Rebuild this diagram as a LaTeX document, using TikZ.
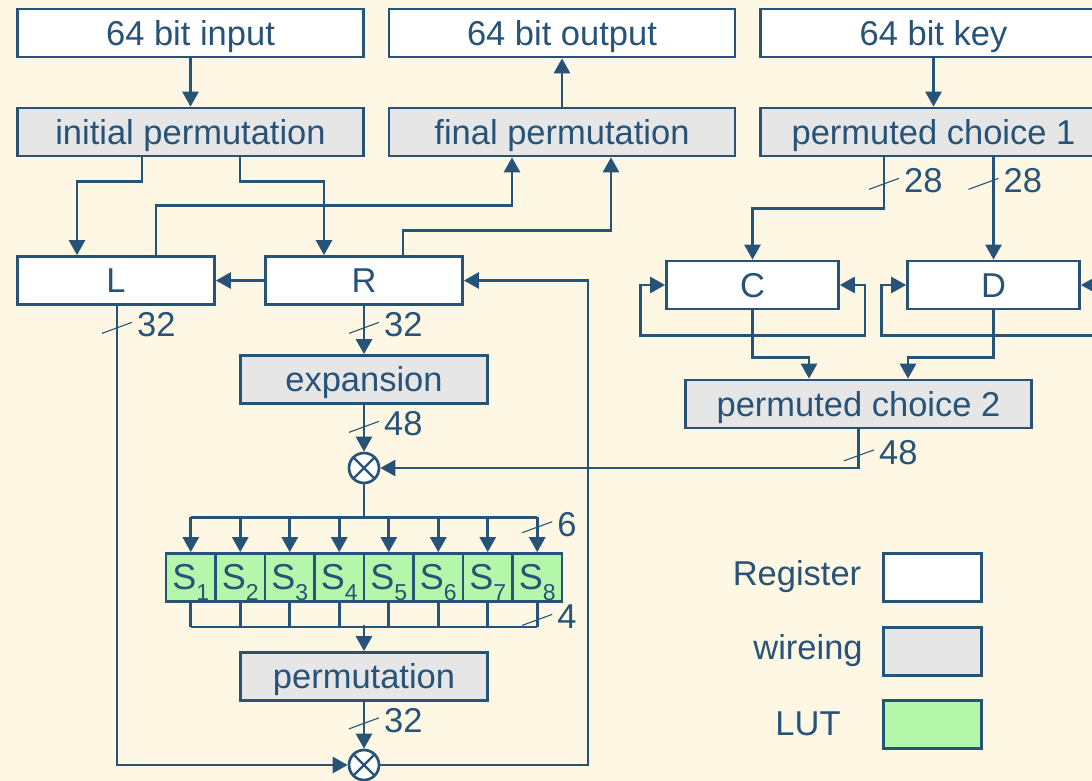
\documentclass[tikz,border=0pt]{standalone}
\usepackage{fontspec}
\setmainfont{Liberation Sans}
\usetikzlibrary{arrows.meta,calc}
\definecolor{ink}{RGB}{40,83,120}
\definecolor{paper}{RGB}{253,247,227}
\definecolor{wiregray}{RGB}{230,230,230}
\definecolor{lutgreen}{RGB}{180,246,170}

% a short slash across a wire with its bit width beside it
\newcommand\buswidth[3]{%
  \draw[slashline] ($#2+(-15,5.5)$) -- ($#2+(15,-5.5)$);
  \node[txt,anchor=west] (#1) at ($#2+(20,-3)$) {#3};}

\begin{document}
\begin{tikzpicture}[x=1pt,y=-1pt,
  txt/.style={text=ink,font=\fontsize{34.5}{40}\selectfont,inner sep=0pt},
  box/.style={txt,draw=ink,line width=2.7pt,text height=24.5pt,text depth=0pt,
    minimum height=48pt},
  regbox/.style={box,fill=white},
  wirebox/.style={box,fill=wiregray},
  lutbox/.style={box,fill=lutgreen,minimum width=49.5pt},
  xorop/.style={circle,draw=ink,fill=white,line width=2.7pt,minimum size=30pt,inner sep=0pt,
    path picture={\draw[ink,line width=2.4pt]
      (path picture bounding box.north west) -- (path picture bounding box.south east)
      (path picture bounding box.north east) -- (path picture bounding box.south west);}},
  wire/.style={draw=ink,line width=2.7pt},
  arr/.style={wire,-{Triangle[length=15pt,width=16pt]}},
  slashline/.style={draw=ink,line width=1.1pt}]

\useasboundingbox (0,0) rectangle (1092,781);
\fill[paper] (0,0) rectangle (1092,781);
\clip (0,0) rectangle (1092,781);

% top rows
\node[regbox,minimum width=346pt] (in)  at (190.5,33) {64 bit input};
\node[regbox,minimum width=346pt] (out) at (562,33) {64 bit output};
\node[regbox,minimum width=346pt] (key) at (933.5,33) {64 bit key};
\node[wirebox,minimum width=346pt] (ip)  at (190.5,132) {initial permutation};
\node[wirebox,minimum width=346pt] (fp)  at (562,132) {final permutation};
\node[wirebox,minimum width=346pt] (pc1) at (933.5,132) {permuted choice 1};

% data path
\node[regbox,minimum width=197pt] (L) at (116,280.5) {L};
\node[regbox,minimum width=197pt] (R) at (364,280.5) {R};
\node[wirebox,minimum width=247pt] (exp) at (364,379.5) {expansion};
\node[xorop] (x1) at (364,468) {};
\foreach \i in {1,...,8}
  \node[lutbox,font=\fontsize{36}{40}\selectfont] (S\i) at ({166+49.5*(\i-0.5)},577.5)
    {S\raisebox{-11pt}{\fontsize{23}{23}\selectfont\i}};
\node[wirebox,minimum width=247pt] (perm) at (364,676.5) {permutation};
\node[xorop] (x2) at (364,765) {};

% key schedule
\node[regbox,minimum width=172pt] (C) at (752.5,285) {C};
\node[regbox,minimum width=172pt] (D) at (993.5,285) {D};
\node[wirebox,minimum width=346pt] (pc2) at (858.5,404) {permuted choice 2};

% legend
\node[regbox,minimum width=98pt] (legReg) at (932.5,577.5) {};
\node[wirebox,minimum width=98pt] (legWire) at (932.5,651.5) {};
\node[lutbox,minimum width=98pt] (legLut) at (932.5,724.5) {};
\node[txt] (tReg) at (797,577) {Register};
\node[txt] (tWire) at (808,651) {wireing};
\node[txt] (tLut) at (808,724) {LUT};

% connectors: input / output
\draw[arr] (in) -- (ip);
\draw[arr] (fp) -- (out);
\draw[arr] (key) -- (pc1);
\draw[arr] ($(ip.south)+(-48.5,0)$) -- ++(0,24) -| ($(L.north)+(-39,0)$);
\draw[arr] ($(ip.south)+(49.5,0)$) -- ++(0,24) -| ($(R.north)+(-40,0)$);
\draw[arr] ($(L.north)+(40,0)$) -- ++(0,-50) -| ($(fp.south)+(-50,0)$);
\draw[arr] ($(R.north)+(39,0)$) -- ++(0,-25) -| ($(fp.south)+(49,0)$);

% round function
\draw[arr] (R.west) -- (L.east);
\draw[arr] ($(L.south)+(1,0)$) |- (x2.west);
\draw[arr] (R) -- (exp);
\draw[arr] (exp) -- (x1);
\draw[wire] (x1.south) -- ($(x1.south)+(0,35)$);
\draw[wire] ($(S1.north)+(0,-35)$) -- ($(S8.north)+(0,-35)$);
\draw[wire] ($(S1.south)+(0,24)$) -- ($(S8.south)+(0,24)$);
\foreach \i in {1,...,8} {
  \draw[arr] ($(S\i.north)+(0,-35)$) -- (S\i.north);
  \draw[wire] (S\i.south) -- ($(S\i.south)+(0,24)$);
}
\draw[arr] ($(perm.north)+(0,-26)$) -- (perm.north);
\draw[arr] (perm) -- (x2);
\draw[arr] (x2.east) -| ($(R.east)+(124,0)$) -- (R.east);

% key schedule connectors
\draw[arr] ($(pc1.south)+(-49.5,0)$) -- ++(0,51) -| (C.north);
\draw[arr] (pc1.south -| D.north) -- (D.north);
\draw[arr] ($(C.south)+(0,25)$) -| ($(C.west)+(-25,0)$) -- (C.west);
\draw[arr] ($(C.south)+(0,25)$) -| ($(C.east)+(25,0)$) -- (C.east);
\draw[arr] ($(D.south)+(0,25)$) -| ($(D.west)+(-25,0)$) -- (D.west);
\draw[arr] ($(D.south)+(0,25)$) -| ($(D.east)+(25,0)$) -- (D.east);
\draw[arr] (C.south) -- ++(0,47) -| ($(pc2.north)+(-49.5,0)$);
\draw[arr] (D.south) -- ++(0,47) -| ($(pc2.north)+(49.5,0)$);
\draw[arr] (pc2.south) |- (x1.east);

% bus widths
\buswidth{wL}{(L.south)+(1,22)}{32}
\buswidth{wR}{(R.south)+(0,22)}{32}
\buswidth{wE}{(exp.south)+(0,22)}{48}
\buswidth{wP}{(perm.south)+(0,21.5)}{32}
\buswidth{wC}{(pc1.south)+(-49.5,26.5)}{28}
\buswidth{wD}{(pc1.south-|D.north)+(-10,26.5)}{28}
\buswidth{wK}{(pc2.south)+(0.5,26)}{48}
\buswidth{wSin}{(S8.north)+(0,-25)}{6}
\buswidth{wSout}{(S8.south)+(0,17)}{4}
\end{tikzpicture}
\end{document}
